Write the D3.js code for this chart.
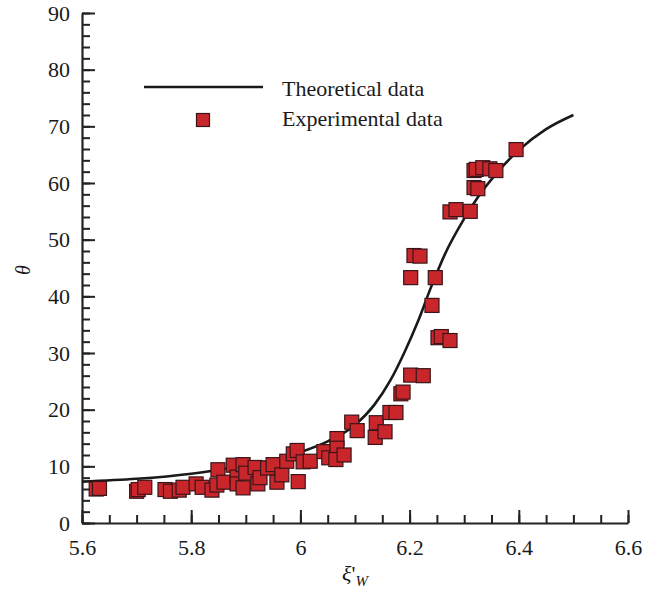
<!DOCTYPE html>
<html>
<head>
<meta charset="utf-8">
<script src="https://cdn.jsdelivr.net/npm/d3@7"></script>
<style>
  html, body { margin: 0; padding: 0; background: #fff; }
  svg { display: block; }
  text { font-family: "Liberation Serif", "Times New Roman", serif; fill: #1a1a1a; }
</style>
</head>
<body>
<svg id="chart" width="665" height="596"></svg>
<script>
// Theoretical curve: theta vs xi'_W
const curveX = [5.6, 5.7, 5.8, 5.9, 5.95, 6.0, 6.05, 6.1, 6.135, 6.165, 6.19, 6.215, 6.24, 6.265, 6.3, 6.325, 6.36, 6.4, 6.45, 6.5];
const curveY = [7.3, 7.8, 8.7, 10.2, 11.1, 12.5, 14.4, 17.3, 20.8, 25.2, 30.0, 35.5, 41.8, 47.5, 53.7, 57.5, 61.8, 65.8, 69.5, 72.0];

// Experimental measurements
const expX = [5.626, 5.632, 5.700, 5.703, 5.715, 5.752, 5.762, 5.778, 5.785, 5.809,
              5.820, 5.838, 5.847, 5.849, 5.860, 5.877, 5.884, 5.884, 5.895, 5.895,
              5.900, 5.917, 5.922, 5.926, 5.940, 5.950, 5.957, 5.966, 5.975, 5.987,
              5.994, 5.996, 6.005, 6.018, 6.043, 6.052, 6.067, 6.067, 6.065, 6.080,
              6.094, 6.104, 6.137, 6.139, 6.155, 6.164, 6.175, 6.184, 6.188, 6.202,
              6.225, 6.202, 6.208, 6.219, 6.247, 6.241, 6.252, 6.258, 6.274, 6.274,
              6.285, 6.311, 6.318, 6.325, 6.318, 6.322, 6.334, 6.347, 6.358, 6.395];
const expY = [6.0, 6.1, 5.6, 5.9, 6.3, 5.9, 5.6, 5.8, 6.3, 6.9,
              6.3, 5.8, 6.7, 9.4, 7.2, 10.2, 8.1, 6.9, 10.3, 6.2,
              8.8, 9.8, 6.9, 8.0, 9.7, 10.3, 7.2, 8.5, 10.9, 12.2,
              12.8, 7.3, 10.8, 10.9, 12.6, 11.5, 14.9, 13.2, 11.2, 12.0,
              17.8, 16.3, 15.1, 17.7, 16.1, 19.5, 19.5, 22.8, 23.1, 26.1,
              26.0, 43.3, 47.2, 47.1, 43.3, 38.4, 32.7, 32.9, 32.2, 54.9,
              55.3, 55.0, 59.2, 59.0, 62.2, 62.4, 62.7, 62.5, 62.2, 65.9];

// Axis ticks
const xMajorTicks = [5.6, 5.8, 6.0, 6.2, 6.4, 6.6];
const xTickLabels = ["5.6", "5.8", "6", "6.2", "6.4", "6.6"];
const yMajorTicks = [0, 10, 20, 30, 40, 50, 60, 70, 80, 90];

const svg = d3.select("#chart");
const plotLeft = 82, plotRight = 628, plotTop = 13, plotBottom = 523;

const x = d3.scaleLinear().domain([5.6, 6.6]).range([plotLeft, plotRight]);
const y = d3.scaleLinear().domain([0, 90]).range([plotBottom, plotTop]);

const axisColor = "#222";

// Minor ticks
const xMinor = d3.range(5.6, 6.6001, 0.05).map(v => +v.toFixed(2));
const yMinor = d3.range(0, 90.001, 2);

svg.append("g")
  .attr("transform", `translate(0,${plotBottom})`)
  .call(d3.axisBottom(x).tickValues(xMinor).tickSizeInner(-8).tickSizeOuter(0).tickFormat(""))
  .call(g => g.select(".domain").remove())
  .call(g => g.selectAll("line").attr("stroke", axisColor).attr("stroke-width", 2));

svg.append("g")
  .attr("transform", `translate(${plotLeft},0)`)
  .call(d3.axisLeft(y).tickValues(yMinor).tickSizeInner(-8).tickSizeOuter(0).tickFormat(""))
  .call(g => g.select(".domain").remove())
  .call(g => g.selectAll("line").attr("stroke", axisColor).attr("stroke-width", 2));

// Major ticks with labels
const xAxis = svg.append("g")
  .attr("transform", `translate(0,${plotBottom})`)
  .call(d3.axisBottom(x).tickValues(xMajorTicks).tickSizeInner(-13).tickSizeOuter(0)
    .tickPadding(16).tickFormat((d, i) => xTickLabels[i]));
xAxis.select(".domain").attr("stroke", axisColor).attr("stroke-width", 2.2);
xAxis.selectAll("line").attr("stroke", axisColor).attr("stroke-width", 2);
xAxis.selectAll("text").attr("font-size", 22).attr("font-family", "Liberation Serif").attr("fill", "#1a1a1a");

const yAxis = svg.append("g")
  .attr("transform", `translate(${plotLeft},0)`)
  .call(d3.axisLeft(y).tickValues(yMajorTicks).tickSizeInner(-13).tickSizeOuter(0)
    .tickPadding(12).tickFormat(d3.format("d")));
yAxis.select(".domain").attr("stroke", axisColor).attr("stroke-width", 2.2);
yAxis.selectAll("line").attr("stroke", axisColor).attr("stroke-width", 2);
yAxis.selectAll("text").attr("font-size", 22).attr("font-family", "Liberation Serif").attr("fill", "#1a1a1a");

// Theoretical curve
const curvePts = curveX.map((v, i) => [v, curveY[i]]);
svg.append("path")
  .datum(curvePts)
  .attr("fill", "none")
  .attr("stroke", "#1a1a1a")
  .attr("stroke-width", 2.6)
  .attr("d", d3.line().x(d => x(d[0])).y(d => y(d[1])).curve(d3.curveMonotoneX));

// Experimental squares
const sq = 14;
const fill = "#c9262c", edge = "#3a1518";
svg.append("g")
  .selectAll("rect")
  .data(expX.map((v, i) => [v, expY[i]]))
  .join("rect")
  .attr("x", d => x(d[0]) - sq / 2)
  .attr("y", d => y(d[1]) - sq / 2)
  .attr("width", sq)
  .attr("height", sq)
  .attr("fill", fill)
  .attr("stroke", edge)
  .attr("stroke-width", 1.2);

// Legend
const legend = svg.append("g");
legend.append("line")
  .attr("x1", 144).attr("x2", 263).attr("y1", 87).attr("y2", 87)
  .attr("stroke", "#1a1a1a").attr("stroke-width", 2.6);
legend.append("text").attr("x", 282).attr("y", 96).attr("font-size", 22).text("Theoretical data");
legend.append("rect")
  .attr("x", 203 - 6.5).attr("y", 120 - 6.5).attr("width", 13).attr("height", 13)
  .attr("fill", fill).attr("stroke", edge).attr("stroke-width", 1.2);
legend.append("text").attr("x", 282).attr("y", 126).attr("font-size", 22).text("Experimental data");

// Axis titles
svg.append("text")
  .attr("transform", "translate(30,270) rotate(-90)")
  .attr("text-anchor", "middle")
  .attr("font-size", 20)
  .attr("font-style", "italic")
  .text("θ");

const xt = svg.append("text").attr("x", 342).attr("y", 581).attr("font-size", 22);
xt.append("tspan").attr("font-style", "italic").text("ξ");
xt.append("tspan").text("'");
xt.append("tspan").attr("font-style", "italic").attr("font-size", 15).attr("dy", 5).text("W");
</script>
</body>
</html>
